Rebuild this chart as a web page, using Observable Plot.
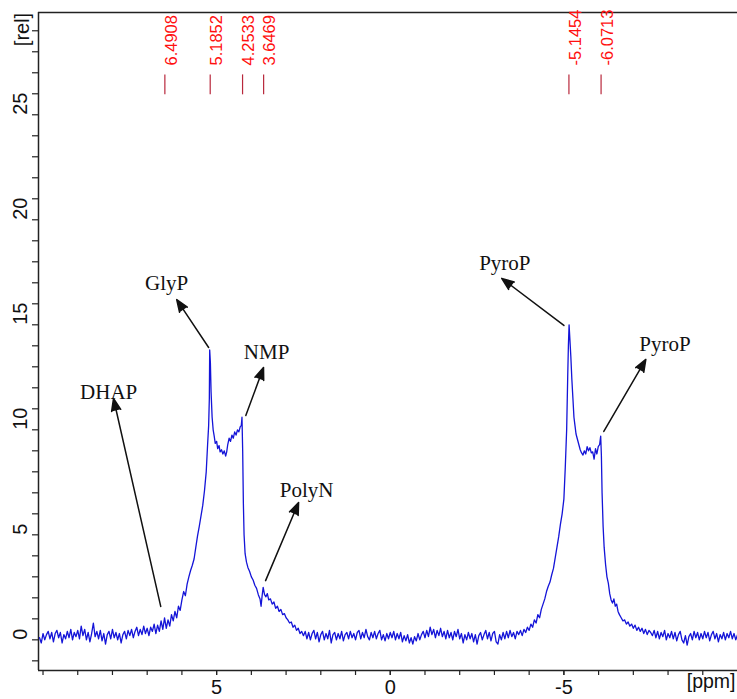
<!DOCTYPE html>
<html><head><meta charset="utf-8">
<script src="https://cdn.jsdelivr.net/npm/d3@7"></script>
<script src="https://cdn.jsdelivr.net/npm/@observablehq/plot@0.6"></script>
<style>body{margin:0;background:#fff}</style>
</head><body><div id="chart"></div>
<script>
// ---- chemical shift (ppm) sampling points ----
const ppm = [
  // left baseline
  10.10,10.05,10.00,9.95,9.90,9.85,9.80,9.75,9.70,9.65,
  9.60,9.55,9.50,9.45,9.40,9.35,9.30,9.25,9.20,9.15,
  9.10,9.05,9.00,8.95,8.90,8.85,8.80,8.75,8.70,8.65,
  8.60,8.55,8.50,8.45,8.40,8.35,8.30,8.25,8.20,8.15,
  8.10,8.05,8.00,7.95,7.90,7.85,7.80,7.75,7.70,7.65,
  7.60,7.55,7.50,7.45,7.40,7.35,7.30,7.25,7.20,7.15,
  7.10,7.05,7.00,6.95,6.90,
  // left peak group
  6.85,6.80,6.75,6.70,6.65,6.60,6.55,6.50,6.45,6.40,
  6.35,6.30,6.25,6.20,6.15,6.10,6.05,6.00,5.95,5.90,
  5.85,5.80,5.75,5.70,5.65,5.60,5.55,5.50,5.45,5.40,
  5.35,5.30,5.26,5.23,5.21,5.20,5.18,5.16,5.13,5.10,
  5.07,5.04,5.00,4.97,4.93,4.90,4.86,4.82,4.78,4.74,
  4.71,4.68,4.64,4.60,4.56,4.52,4.48,4.44,4.40,4.36,
  4.32,4.29,4.27,4.25,4.23,4.21,4.18,4.14,4.10,4.05,
  4.00,3.95,3.90,3.85,3.80,3.75,3.72,3.69,3.66,3.62,
  3.58,3.54,3.50,3.45,3.40,3.35,3.30,3.25,3.20,3.15,
  3.10,3.05,3.00,2.95,2.90,2.85,2.80,2.75,2.70,2.65,
  2.60,2.55,
  // middle baseline
  2.50,2.45,2.40,2.35,2.30,2.25,2.20,2.15,2.10,2.05,
  2.00,1.95,1.90,1.85,1.80,1.75,1.70,1.65,1.60,1.55,
  1.50,1.45,1.40,1.35,1.30,1.25,1.20,1.15,1.10,1.05,
  1.00,0.95,0.90,0.85,0.80,0.75,0.70,0.65,0.60,0.55,
  0.50,0.45,0.40,0.35,0.30,0.25,0.20,0.15,0.10,0.05,
  0.00,-0.05,-0.10,-0.15,-0.20,-0.25,-0.30,-0.35,-0.40,-0.45,
  -0.50,-0.55,-0.60,-0.65,-0.70,-0.75,-0.80,-0.85,-0.90,-0.95,
  -1.00,-1.05,-1.10,-1.15,-1.20,-1.25,-1.30,-1.35,-1.40,-1.45,
  -1.50,-1.55,-1.60,-1.65,-1.70,-1.75,-1.80,-1.85,-1.90,-1.95,
  -2.00,-2.05,-2.10,-2.15,-2.20,-2.25,-2.30,-2.35,-2.40,-2.45,
  -2.50,-2.55,-2.60,-2.65,-2.70,-2.75,-2.80,-2.85,-2.90,-2.95,
  -3.00,-3.05,-3.10,-3.15,-3.20,-3.25,-3.30,-3.35,-3.40,-3.45,
  -3.50,-3.55,-3.60,-3.65,-3.70,
  // right peak group
  -3.75,-3.80,-3.85,-3.90,-3.95,-4.00,-4.05,-4.10,-4.15,-4.20,
  -4.25,-4.30,-4.35,-4.40,-4.45,-4.50,-4.55,-4.60,-4.65,-4.70,
  -4.75,-4.80,-4.85,-4.90,-4.95,-5.00,-5.04,-5.08,-5.11,-5.13,
  -5.15,-5.17,-5.20,-5.23,-5.26,-5.29,-5.32,-5.35,-5.39,-5.43,
  -5.47,-5.51,-5.55,-5.59,-5.63,-5.67,-5.71,-5.75,-5.79,-5.83,
  -5.87,-5.91,-5.95,-5.99,-6.03,-6.06,-6.08,-6.10,-6.13,-6.16,
  -6.20,-6.24,-6.28,-6.32,-6.36,-6.40,-6.44,-6.48,-6.52,-6.56,
  -6.60,-6.65,-6.70,-6.75,-6.80,-6.85,-6.90,-6.95,-7.00,-7.05,
  -7.10,-7.15,-7.20,-7.25,-7.30,-7.35,-7.40,-7.45,-7.50,-7.55,
  // right baseline
  -7.60,-7.65,-7.70,-7.75,-7.80,-7.85,-7.90,-7.95,-8.00,-8.05,
  -8.10,-8.15,-8.20,-8.25,-8.30,-8.35,-8.40,-8.45,-8.50,-8.55,
  -8.60,-8.65,-8.70,-8.75,-8.80,-8.85,-8.90,-8.95,-9.00,-9.05,
  -9.10,-9.15,-9.20,-9.25,-9.30,-9.35,-9.40,-9.45,-9.50,-9.55,
  -9.60,-9.65,-9.70,-9.75,-9.80,-9.85,-9.90,-9.95,-10.00
];

// ---- relative intensity at each ppm point ----
const intensity = [
  // left baseline
  0.10,-0.15,0.30,0.00,0.25,0.40,0.05,0.35,-0.10,0.30,
  0.45,0.10,0.35,-0.15,0.25,0.05,0.40,0.10,0.50,0.00,
  0.35,0.15,0.45,0.05,0.65,0.20,0.50,0.00,0.35,-0.10,
  0.30,0.80,0.15,0.40,0.05,0.45,-0.05,0.30,-0.20,0.25,
  0.40,0.05,0.50,0.10,0.35,0.00,0.30,-0.15,0.25,0.40,
  0.05,0.45,0.20,0.50,0.10,0.40,0.60,0.20,0.50,0.25,
  0.65,0.30,0.55,0.20,0.60,
  // left peak group
  0.40,0.75,0.30,0.70,0.40,0.90,0.50,1.05,0.55,0.95,
  0.65,1.20,0.90,1.35,1.05,1.60,1.40,1.90,2.30,2.10,
  2.65,3.00,3.30,3.55,3.85,4.40,4.95,5.40,5.90,6.40,
  7.10,8.00,9.30,10.20,11.50,13.80,13.20,11.80,10.60,10.00,
  9.70,9.35,9.45,9.10,9.25,8.95,9.05,8.85,9.00,8.75,
  8.95,9.30,9.60,9.45,9.75,9.60,9.90,9.75,10.00,9.90,
  10.15,10.20,10.60,9.00,6.50,5.00,4.10,3.70,3.45,3.25,
  3.00,2.85,2.60,2.45,2.15,1.95,1.60,2.10,2.50,2.15,
  2.05,2.20,1.90,1.95,1.70,1.80,1.50,1.60,1.35,1.45,
  1.20,1.25,1.05,0.95,0.80,0.85,0.60,0.70,0.45,0.55,
  0.30,0.40,
  // middle baseline
  0.20,0.40,0.05,0.35,0.00,0.30,0.45,0.05,0.35,-0.10,
  0.25,0.40,0.00,0.30,0.05,0.45,-0.15,0.25,0.35,0.00,
  0.30,0.05,0.40,-0.05,0.25,0.35,0.05,0.40,0.10,0.30,
  0.00,0.35,0.45,0.05,0.35,0.10,0.50,0.15,0.00,0.35,
  0.10,0.40,0.05,0.30,0.45,0.00,0.25,-0.05,0.30,0.05,
  0.35,0.10,0.40,0.00,0.30,0.05,0.35,-0.10,0.20,-0.05,
  0.25,-0.15,0.10,-0.20,0.15,-0.05,0.30,0.00,0.25,0.40,
  0.10,0.45,0.15,0.60,0.25,0.50,0.10,0.45,0.20,0.55,
  0.15,0.40,0.05,0.45,0.10,0.35,0.00,0.40,0.15,0.50,
  0.05,0.30,-0.15,0.25,0.00,0.35,0.05,0.30,-0.10,0.25,
  -0.20,0.20,0.35,0.00,0.25,0.45,0.05,0.35,-0.05,0.30,
  0.40,-0.10,-0.20,0.25,0.00,0.35,0.05,0.40,0.10,0.45,
  0.15,0.35,0.05,0.40,0.25,
  // right peak group
  0.45,0.20,0.50,0.35,0.60,0.45,0.75,0.60,0.95,0.80,
  1.20,1.05,1.45,1.70,1.95,2.30,2.55,2.75,3.10,3.40,
  3.90,4.40,4.90,5.50,6.00,6.70,8.20,10.00,12.50,14.00,
  15.00,14.40,13.50,12.40,11.50,10.60,10.20,9.80,9.55,9.30,
  9.05,8.90,8.80,9.00,8.85,9.20,9.00,9.15,8.90,8.95,
  8.60,9.10,8.85,9.20,9.30,9.70,8.80,7.00,5.40,4.40,
  3.60,3.00,2.70,2.20,1.90,1.75,1.95,1.60,1.70,1.35,
  1.20,1.05,0.90,0.95,0.75,0.85,0.65,0.75,0.55,0.70,
  0.45,0.60,0.40,0.55,0.30,0.50,0.25,0.45,0.35,0.20,
  // right baseline
  0.45,0.10,0.40,0.05,0.35,0.15,0.45,0.00,0.30,0.10,
  0.40,0.05,0.35,-0.05,0.25,0.40,0.00,-0.15,0.20,-0.25,
  0.15,0.30,0.00,0.40,0.10,0.35,0.00,0.30,0.05,0.40,
  0.10,0.35,-0.05,0.25,0.40,0.05,0.30,-0.10,0.25,0.05,
  0.35,0.00,0.30,0.10,0.40,0.05,0.30,0.00,0.25
];

// ---- peak-picking labels ----
const peakPpm = [6.4908, 5.1852, 4.2533, 3.6469, -5.1454, -6.0713];
const peakLabels = ["6.4908", "5.1852", "4.2533", "3.6469", "-5.1454", "-6.0713"];

// ---- annotations ----
const annoLabels = ["DHAP", "GlyP", "NMP", "PolyN", "PyroP", "PyroP"];
const annoX = [8.11, 6.44, 3.56, 2.41, -3.30, -7.91];
const annoY = [11.78, 16.97, 13.68, 7.11, 17.92, 14.06];
const arrowFromX = [6.61, 5.23, 4.16, 3.59, -5.00, -6.15];
const arrowFromY = [1.59, 13.92, 10.68, 2.82, 14.97, 9.92];
const arrowToX = [7.97, 6.15, 3.65, 2.64, -3.21, -7.36];
const arrowToY = [11.49, 16.20, 12.97, 6.54, 17.21, 13.35];

// ---- axes ----
const xDomain = [10.13, -10];
const yDomain = [-1.46, 29.87];
const xMinorTicks = d3.range(-9, 11);
const xTickLabels = [5, 0, -5];
const yMinorTicks = d3.range(-1, 30);
const yTickLabels = [0, 5, 10, 15, 20, 25];

const spectrum = ppm.map((p, i) => ({ppm: p, value: intensity[i]}));
const annotations = annoLabels.map((t, i) => ({
  label: t, x: annoX[i], y: annoY[i],
  x1: arrowFromX[i], y1: arrowFromY[i], x2: arrowToX[i], y2: arrowToY[i]
}));
const peaks = peakPpm.map((p, i) => ({ppm: p, label: peakLabels[i]}));

const axisColor = "#222";
const sans = "'Liberation Sans', Arial, sans-serif";
const serif = "'Liberation Serif', 'Times New Roman', serif";

const chart = Plot.plot({
  width: 737, height: 699,
  marginLeft: 38, marginRight: 0, marginTop: 12, marginBottom: 29,
  style: {fontFamily: sans, background: "white", overflow: "visible", color: "#111"},
  x: {domain: xDomain, label: null},
  y: {domain: yDomain, label: null},
  marks: [
    // frame lines
    Plot.ruleX([xDomain[0]], {stroke: axisColor, strokeWidth: 1.5}),
    Plot.ruleY([yDomain[1]], {stroke: axisColor, strokeWidth: 1.5}),
    Plot.ruleY([yDomain[0]], {stroke: axisColor, strokeWidth: 1.5}),
    // x axis
    Plot.axisX({ticks: xMinorTicks, tickSize: 5, tickFormat: () => "", label: null, stroke: axisColor, strokeWidth: 1.2}),
    Plot.axisX({ticks: xTickLabels, tickSize: 5, tickPadding: 4, tickFormat: d => String(d), label: null,
      fontSize: 20, fill: "#111", stroke: axisColor, strokeWidth: 1.2}),
    // y axis
    Plot.axisY({ticks: yMinorTicks, tickSize: 6, tickFormat: () => "", label: null, stroke: axisColor, strokeWidth: 1.2}),
    Plot.text(yTickLabels, {y: d => d, frameAnchor: "left", dx: -18, rotate: -90, text: d => String(d),
      fontSize: 20, fill: "#111"}),
    Plot.text(["[rel]"], {frameAnchor: "top-left", dx: -24, dy: 17, rotate: -90, text: d => d,
      fontSize: 20, fill: "#111", textAnchor: "middle"}),
    Plot.text(["[ppm]"], {frameAnchor: "bottom-right", dx: -2, dy: 17, text: d => d,
      fontSize: 19.5, fill: "#111", textAnchor: "end"}),
    // spectrum
    Plot.line(spectrum, {x: "ppm", y: "value", stroke: "#1414d8", strokeWidth: 1.3}),
    // peak picking
    Plot.ruleX(peaks, {x: "ppm", y1: 25.95, y2: 26.9, stroke: "#b8283c", strokeWidth: 1.2}),
    Plot.text(peaks, {x: "ppm", text: "label", frameAnchor: "top", dy: 53, rotate: -90, textAnchor: "start",
      fill: "#ff1010", fontSize: 16.5}),
    // annotations
    Plot.arrow(annotations, {x1: "x1", y1: "y1", x2: "x2", y2: "y2", stroke: "#111", fill: "#111",
      strokeWidth: 1.5, headLength: 13, headAngle: 42}),
    Plot.text(annotations, {x: "x", y: "y", text: "label", fontFamily: serif, fontSize: 21, fill: "#111"})
  ]
});
document.getElementById("chart").appendChild(chart);
</script>
</body></html>
